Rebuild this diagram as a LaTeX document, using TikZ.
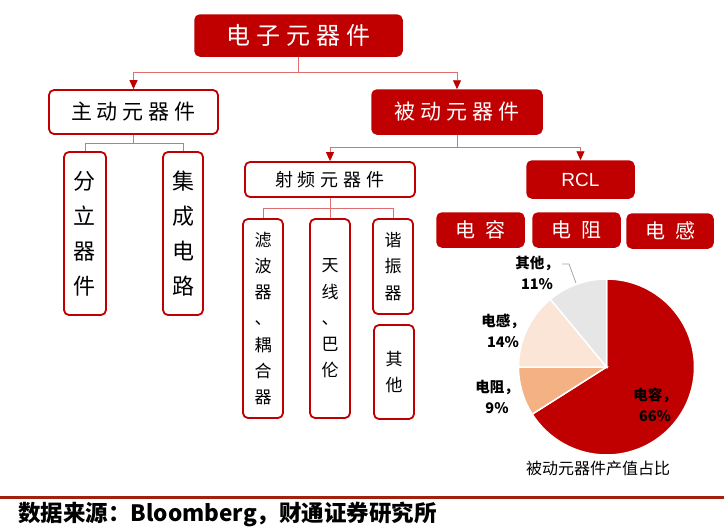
\documentclass[tikz,border=0pt]{standalone}
\usepackage{fontspec}
\setmainfont{Noto Sans CJK SC}
\newfontfamily\latinsans{Liberation Sans}
\usetikzlibrary{arrows.meta}
\definecolor{cred}{HTML}{C00000}
\definecolor{clink}{HTML}{E07070}
\definecolor{cfoot}{HTML}{A3200F}
\definecolor{cres}{HTML}{F4B183}
\definecolor{cind}{HTML}{FBE5D6}
\definecolor{coth}{HTML}{E7E6E6}
\definecolor{cgray}{HTML}{A6A6A6}
\newcommand\fs[2]{\fontsize{#1}{#2}\selectfont}
\newcommand\gp[1]{\hspace{#1pt}}
\tikzset{
  redbox/.style={draw=cred, fill=cred, line width=1.5pt, rounded corners=5pt, text=white, inner sep=0pt},
  whitebox/.style={draw=cred, fill=white, line width=1.8pt, rounded corners=5pt, text=black, inner sep=0pt},
  tallbox/.style={whitebox, align=center},
  conn/.style={draw=clink, line width=0.9pt},
  arr/.style={conn, -{Triangle[width=8pt,length=9pt,color=cred]}},
  plabel/.style={font=\fs{14.5}{20.5}\bfseries, align=center, text=black, inner sep=0pt},
}
\begin{document}
\begin{tikzpicture}[x=1pt,y=-1pt]
\useasboundingbox (0,0) rectangle (724,528);
\fill[white] (0,0) rectangle (724,528);

% top level
\node[redbox, minimum width=207, minimum height=41, font=\fs{24}{28}] (top) at (298.5,35.5) {电\gp6子\gp6元\gp6器\gp6件};
\node[whitebox, minimum width=169, minimum height=44, font=\fs{21}{25}] (act) at (133.5,112) {主\gp5动\gp5元\gp5器\gp5件};
\node[redbox, minimum width=170, minimum height=44, font=\fs{21}{25}] (pas) at (457,112) {被\gp5动\gp5元\gp5器\gp5件};

\coordinate (j1) at (top.south |- 0,72);
\draw[conn] (top.south) -- (j1);
\draw[arr] (j1) -| (act.north);
\draw[arr] (j1) -| (pas.north);

% active children
\node[tallbox, minimum width=42, minimum height=163, font=\fs{22}{35}] (dis) at (85,233.5) {分\\立\\器\\件};
\node[tallbox, minimum width=40, minimum height=163, font=\fs{22}{35}] (ic) at (183,233.5) {集\\成\\电\\路};
\coordinate (j2) at (act.south |- 0,143);
\draw[conn] (act.south) -- (j2);
\draw[conn] (j2) -| (dis.north);
\draw[conn] (j2) -| (ic.north);

% passive children
\node[whitebox, minimum width=170, minimum height=35, font=\fs{18}{22}] (rf) at (330,179.5) {射\gp5频\gp5元\gp5器\gp5件};
\node[redbox, minimum width=107, minimum height=37, font=\latinsans\fs{19}{22}] (rcl) at (580.5,179.5) {RCL};
\coordinate (j3) at (pas.south |- 0,147);
\draw[conn] (pas.south) -- (j3);
\draw[arr] (j3) -| (rf.north);
\draw[arr] (j3) -| (rcl.north);

% RF children
\node[tallbox, minimum width=40, minimum height=199, font=\fs{17}{26.3}] (filt) at (263,318.5) {滤\\波\\器\\、\\耦\\合\\器};
\node[tallbox, minimum width=40, minimum height=199, font=\fs{17}{26.3}] (ant) at (330,318.5) {天\\线\\、\\巴\\伦};
\node[tallbox, minimum width=40, minimum height=95, font=\fs{17}{26.3}] (reso) at (393,266.5) {谐\\振\\器};
\node[tallbox, minimum width=40, minimum height=94, font=\fs{17}{26.5}] (oth) at (394,372) {其\\他};
\coordinate (j4) at (rf.south |- 0,208);
\draw[conn] (rf.south) -- (j4);
\draw[conn] (j4) -| (filt.north);
\draw[conn] (j4) -- (ant.north);
\draw[conn] (j4) -| (reso.north);

% RCL items
\node[redbox, minimum width=87, minimum height=34, font=\fs{20}{24}] (cap) at (480.5,230) {电\gp{10}容};
\node[redbox, minimum width=87, minimum height=34, font=\fs{20}{24}] (resi) at (576.5,230) {电\gp{10}阻};
\node[redbox, minimum width=86, minimum height=34, font=\fs{20}{24}] (ind) at (670,231) {电\gp{10}感};

% pie chart
\begin{scope}[shift={(606.5,367)}, yscale=-1]
  \filldraw[fill=cred, draw=white, line width=1.5pt] (0,0) -- (90:88) arc[start angle=90, end angle=-147.6, radius=88] -- cycle;
  \filldraw[fill=cres, draw=white, line width=1.5pt] (0,0) -- (180:88) arc[start angle=180, end angle=212.4, radius=88] -- cycle;
  \filldraw[fill=cind, draw=white, line width=1.5pt] (0,0) -- (129.6:88) arc[start angle=129.6, end angle=180, radius=88] -- cycle;
  \filldraw[fill=coth, draw=white, line width=1.5pt] (0,0) -- (90:88) arc[start angle=90, end angle=129.6, radius=88] -- cycle;
\end{scope}

\node[plabel] (lcap) at (655,405) {电容，\\66\%};
\node[plabel] (lres) at (497,397) {电阻，\\9\%};
\node[plabel] (lind) at (503,331) {电感，\\14\%};
\node[plabel] (loth) at (537,273) {其他，\\11\%};
\coordinate (ld1) at (562,264);
\coordinate (ld2) at (569,264);
\coordinate (ld3) at (576,283);
\draw[draw=cgray, line width=0.8pt] (ld1) -- (ld2) -- (ld3);

\node[font=\fs{16}{20}, inner sep=0pt] (ptitle) at (598,468) {被动元器件产值占比};

% footer
\coordinate (fl) at (0,497);
\coordinate (fr) at (724,497);
\draw[draw=cfoot, line width=3pt] (fl) -- (fr);
\node[font=\fs{22.5}{25}\bfseries, anchor=west, inner sep=0pt] (src) at (18,514) {数据来源：Bloomberg，财通证券研究所};
\end{tikzpicture}
\end{document}
